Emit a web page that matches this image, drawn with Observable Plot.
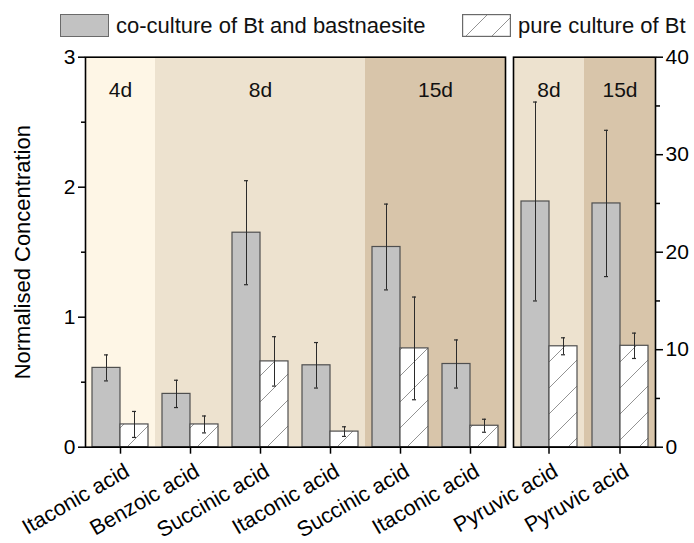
<!DOCTYPE html>
<html>
<head>
<meta charset="utf-8">
<script src="https://cdn.jsdelivr.net/npm/d3@7"></script>
<script src="https://cdn.jsdelivr.net/npm/@observablehq/plot@0.6"></script>
<style>
  html, body { margin: 0; padding: 0; background: #fff; }
  body { font-family: "Liberation Sans", Arial, sans-serif; color: #111; }
  #chart { position: relative; width: 694px; height: 543px; overflow: hidden; }
  #chart > svg { position: absolute; left: 0; top: 0; }
  .lg-box { position: absolute; top: 14px; width: 49px; height: 23px; box-sizing: border-box; }
  .lg-text { position: absolute; top: 15px; font-size: 22px; line-height: 22px; white-space: nowrap; }
</style>
</head>
<body>
<div id="chart"></div>
<script>
// ---------- data ----------
const seriesNames = ["co-culture of Bt and bastnaesite", "pure culture of Bt"];

// left panel (left axis, 0–3)
const leftAcids = ["Itaconic acid", "Benzoic acid", "Succinic acid", "Itaconic acid", "Succinic acid", "Itaconic acid"];
const leftDays = ["4d", "8d", "8d", "8d", "15d", "15d"];
const leftCoculture = [0.61, 0.41, 1.65, 0.63, 1.54, 0.64];
const leftCocultureErr = [0.10, 0.105, 0.40, 0.175, 0.33, 0.185];
const leftPure = [0.175, 0.175, 0.66, 0.12, 0.76, 0.165];
const leftPureErr = [0.10, 0.065, 0.19, 0.037, 0.395, 0.05];
const leftTicks = [0, 1, 2, 3];
const leftMinorTicks = [0.5, 1.5, 2.5];

// right panel (right axis, 0–40)
const rightAcids = ["Pyruvic acid", "Pyruvic acid"];
const rightDays = ["8d", "15d"];
const rightCoculture = [25.2, 25.0];
const rightCocultureErr = [10.2, 7.5];
const rightPure = [10.35, 10.4];
const rightPureErr = [0.87, 1.3];
const rightTicks = [0, 10, 20, 30, 40];
const rightMinorTicks = [5, 15, 25, 35];

const yTitle = "Normalised Concentration";

// ---------- styles ----------
const dayColors = {"4d": "#fef6e6", "8d": "#ede2cf", "15d": "#d8c5aa"};
const grayFill = "#c2c2c2";
const barStroke = "#4f4f4f";
const hatchStroke = "#939393";
const fontFamily = '"Liberation Sans", Arial, sans-serif';

function addHatch(svg, id) {
  const defs = d3.select(svg).insert("defs", ":first-child");
  const p = defs.append("pattern").attr("id", id)
    .attr("patternUnits", "userSpaceOnUse").attr("width", 26).attr("height", 26);
  p.append("rect").attr("width", 26).attr("height", 26).attr("fill", "#fff");
  p.append("path").attr("d", "M-6.5,6.5L6.5,-6.5M0,26L26,0M19.5,32.5L32.5,19.5")
    .attr("stroke", hatchStroke).attr("stroke-width", 1).attr("fill", "none");
}

function dayRuns(days) {
  const runs = [];
  days.forEach((d, i) => {
    const last = runs[runs.length - 1];
    if (last && last.day === d) last.end = i; else runs.push({day: d, start: i, end: i});
  });
  return runs.map(r => {
    const n = r.end - r.start + 1;
    return n % 2 ? {day: r.day, key: r.start + (n - 1) / 2, edge: false}
                 : {day: r.day, key: r.start + n / 2 - 1, edge: true};
  });
}

function panel({acids, days, co, coErr, pure, pureErr, yMax, ticks, minor, marginLeft, marginRight, side, pid, title}) {
  const keys = acids.map((_, i) => i);
  const groups = keys.map(i => ({key: i, day: days[i]}));
  const bars = keys.flatMap(i => [
    {key: i, series: "co", value: co[i], err: coErr[i]},
    {key: i, series: "pure", value: pure[i], err: pureErr[i]}
  ]);
  const runs = dayRuns(days);
  const textStyle = {fontSize: 21, fill: "#111"};
  const marks = [
    Plot.barY(groups, {fx: "key", y: () => yMax, fill: d => dayColors[d.day]}),
    Plot.barY(bars.filter(d => d.series === "co"), {fx: "key", x: "series", y: "value", fill: grayFill, stroke: barStroke, strokeWidth: 1.2}),
    Plot.barY(bars.filter(d => d.series === "pure"), {fx: "key", x: "series", y: "value", fill: `url(#${pid})`, stroke: barStroke, strokeWidth: 1.2}),
    Plot.ruleX(bars, {fx: "key", x: "series", y1: d => d.value - d.err, y2: d => d.value + d.err, stroke: "#2b2b2b", strokeWidth: 1}),
    Plot.tickY(bars, {fx: "key", x: "series", y: d => d.value - d.err, insetLeft: 12, insetRight: 12, stroke: "#2b2b2b", strokeWidth: 1.2}),
    Plot.tickY(bars, {fx: "key", x: "series", y: d => d.value + d.err, insetLeft: 12, insetRight: 12, stroke: "#2b2b2b", strokeWidth: 1.2}),
    Plot.text(runs.filter(r => !r.edge), {fx: "key", text: "day", frameAnchor: "top", dy: 25, ...textStyle}),
    Plot.text(runs.filter(r => r.edge), {fx: "key", text: "day", frameAnchor: "top-right", textAnchor: "middle", dy: 25, ...textStyle}),
    Plot.frame({facet: "super", stroke: "#000", strokeWidth: 1.6}),
    // bottom ticks at group centres
    Plot.axisFx({anchor: "bottom", tickSize: 7, tickFormat: () => "", strokeWidth: 1.5, label: null}),
    // rotated category labels
    Plot.axisFx({anchor: "bottom", tickSize: 0, tickPadding: 10, tickRotate: -30, tickFormat: k => acids[k],
      fontSize: 21.5, dx: 7, dy: 12, label: null}),
    Plot.axisY(ticks, {anchor: side, tickSize: 7, tickPadding: 3, fontSize: 21, strokeWidth: 1.5,
      tickFormat: d => String(d), label: null}),
    Plot.axisY(minor, {anchor: side, tickSize: 4, tickFormat: () => "", strokeWidth: 1.5, label: null})
  ];
  if (title) marks.push(Plot.axisY({anchor: side, ticks: [], tickSize: 0, fontSize: 22,
    label: title, labelAnchor: "center", labelOffset: 71, labelArrow: "none"}));
  const svg = Plot.plot({
    width: 694, height: 543,
    marginTop: 56.7, marginBottom: 96.3, marginLeft, marginRight,
    style: {background: "transparent", fontFamily, fontSize: "21px", color: "#000", overflow: "visible"},
    fx: {domain: keys, padding: 0, label: null, axis: null},
    x: {domain: ["co", "pure"], paddingInner: 0, paddingOuter: 0.24, axis: null},
    y: {domain: [0, yMax], axis: null},
    color: {type: "identity"},
    marks
  });
  addHatch(svg, pid);
  return svg;
}

const chart = document.getElementById("chart");
chart.append(panel({acids: leftAcids, days: leftDays, co: leftCoculture, coErr: leftCocultureErr,
  pure: leftPure, pureErr: leftPureErr, yMax: 3, ticks: leftTicks, minor: leftMinorTicks,
  marginLeft: 83, marginRight: 186.5, side: "left", pid: "hatchL", title: yTitle}));
chart.append(panel({acids: rightAcids, days: rightDays, co: rightCoculture, coErr: rightCocultureErr,
  pure: rightPure, pureErr: rightPureErr, yMax: 40, ticks: rightTicks, minor: rightMinorTicks,
  marginLeft: 512, marginRight: 39, side: "right", pid: "hatchR", title: null}));

// legend (HTML, over the top margin)
const lg = d3.select(chart);
lg.append("div").attr("class", "lg-box").style("left", "60px")
  .style("background", grayFill).style("border", "1.2px solid #6a6a6a");
lg.append("div").attr("class", "lg-text").style("left", "116px").text(seriesNames[0]);
const hb = lg.append("svg").attr("width", 49).attr("height", 23)
  .style("position", "absolute").style("left", "462px").style("top", "14px");
hb.append("defs").append("pattern").attr("id", "hatchLg").attr("patternUnits", "userSpaceOnUse")
  .attr("width", 26).attr("height", 26)
  .call(p => { p.append("rect").attr("width", 26).attr("height", 26).attr("fill", "#fff");
               p.append("path").attr("d", "M-6.5,6.5L6.5,-6.5M0,26L26,0M19.5,32.5L32.5,19.5")
                .attr("stroke", hatchStroke).attr("stroke-width", 1); });
hb.append("rect").attr("x", 0.6).attr("y", 0.6).attr("width", 47.8).attr("height", 21.8)
  .attr("fill", "url(#hatchLg)").attr("stroke", "#6a6a6a").attr("stroke-width", 1.2);
lg.append("div").attr("class", "lg-text").style("left", "518px").text(seriesNames[1]);
</script>
</body>
</html>
